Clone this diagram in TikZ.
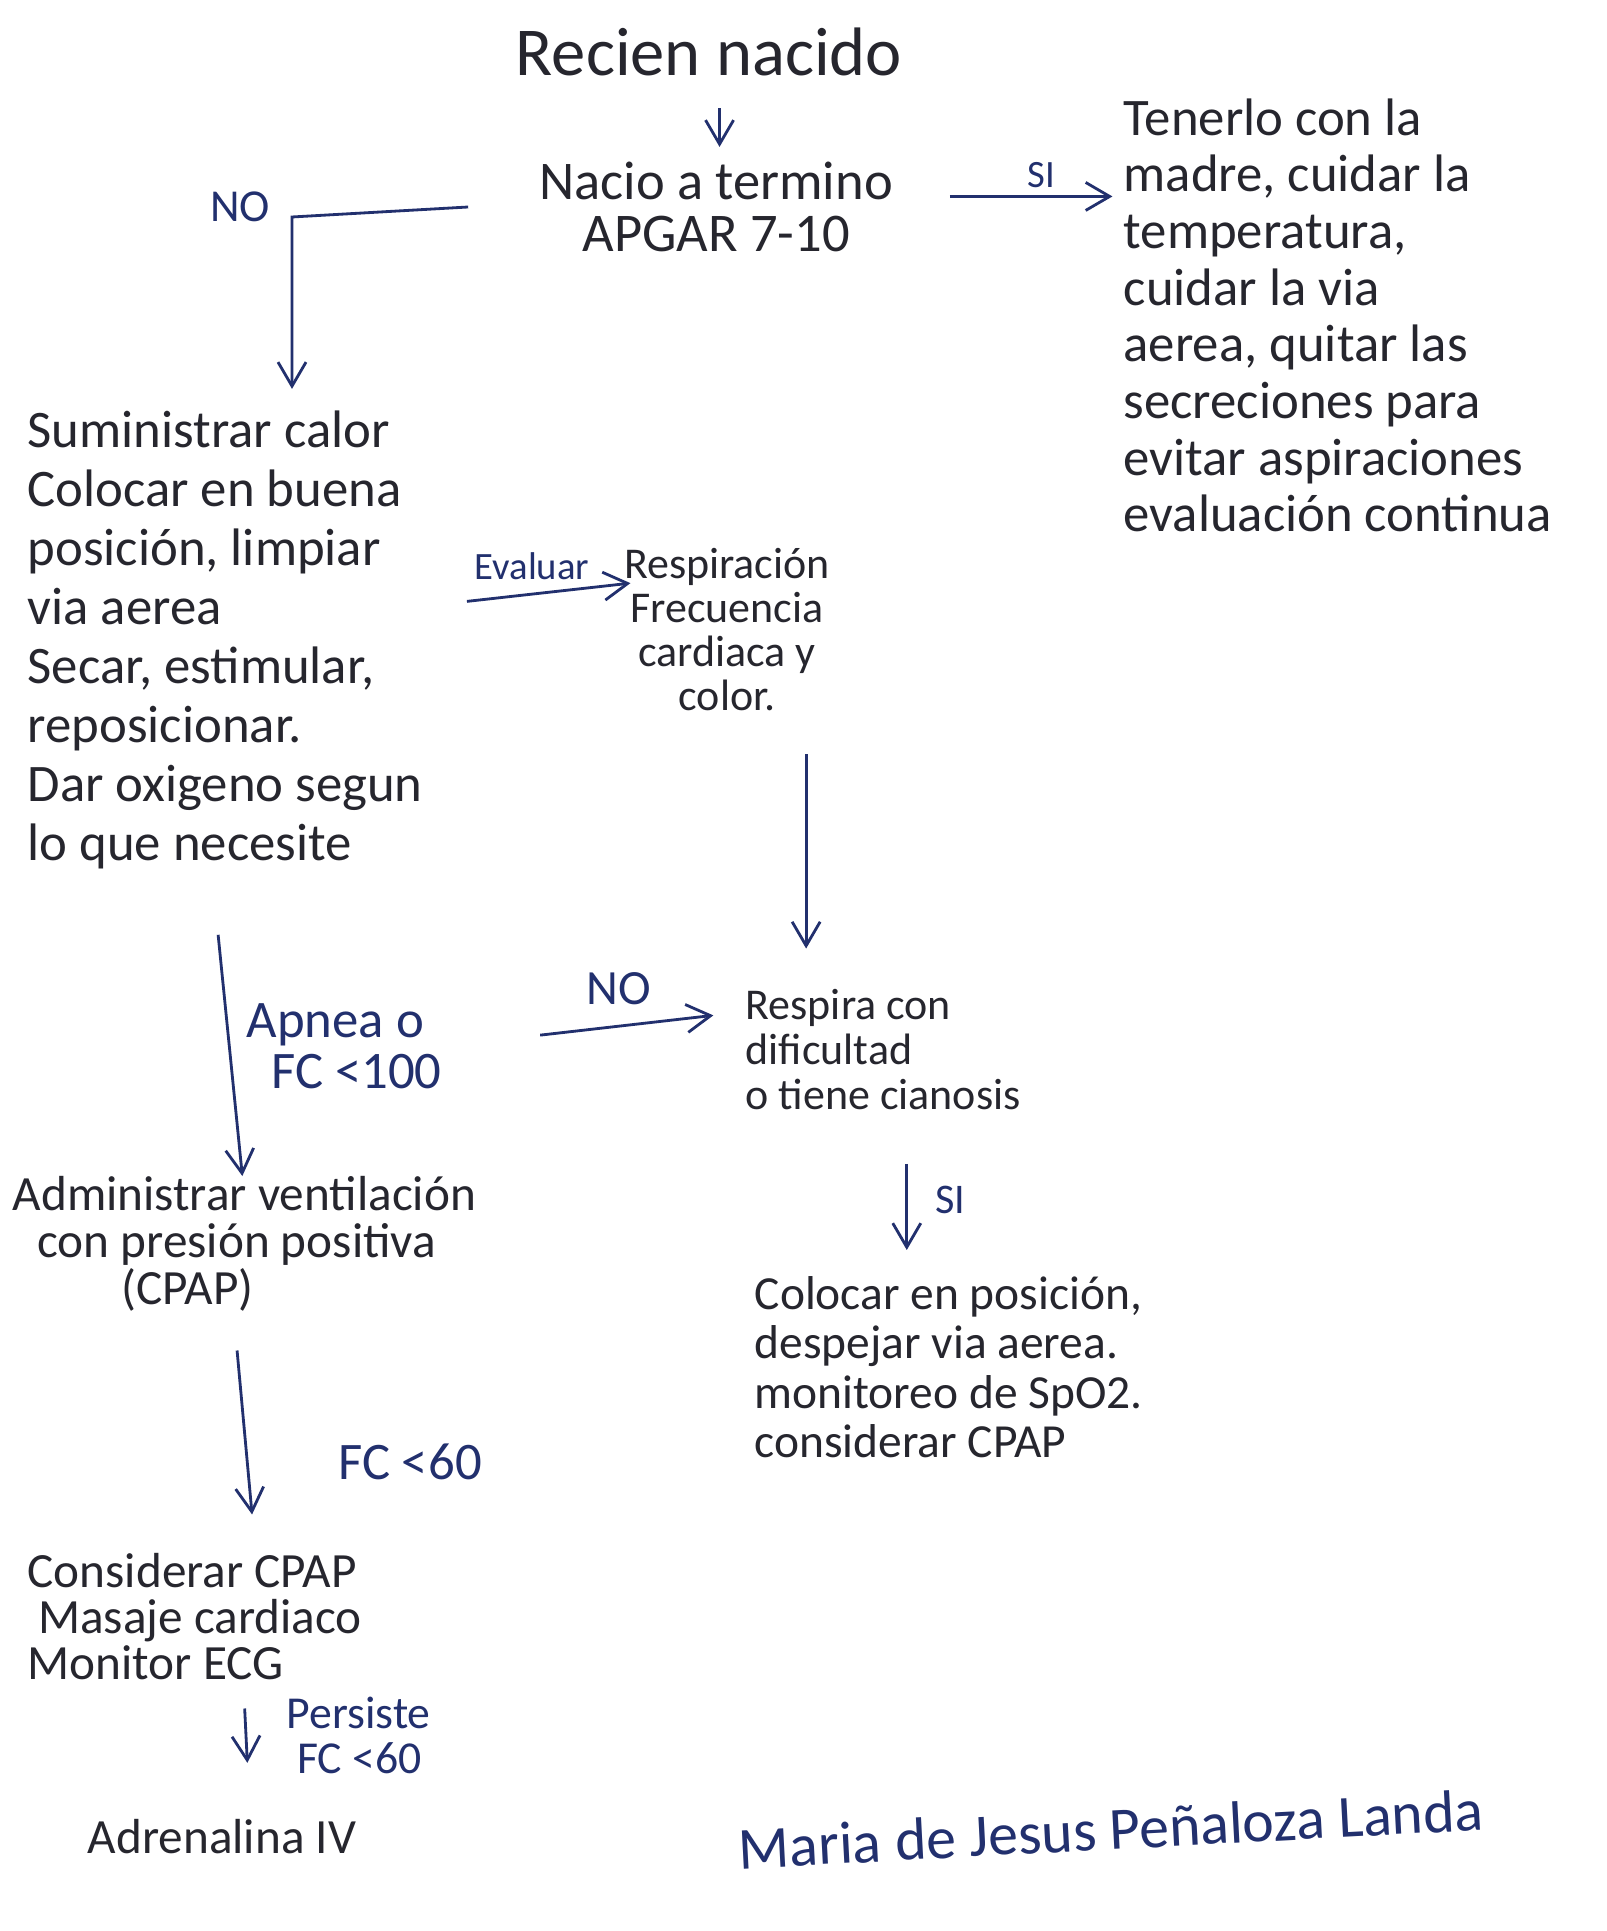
\documentclass[tikz,border=0pt]{standalone}
\usepackage{fontspec}
\setmainfont{Carlito}
\usetikzlibrary{arrows.meta}
\definecolor{tintanegra}{HTML}{26262E}
\definecolor{tintaazul}{HTML}{22306E}
\newcommand{\letra}[2]{\fontsize{#1}{#2}\selectfont}
\tikzset{
  tinta/.style={text=tintanegra,inner sep=0pt},
  bloque/.style={tinta,align=left,anchor=north west},
  etiqueta/.style={text=tintaazul,inner sep=0pt},
  flecha/.style={draw=tintaazul,line width=0.8pt,-{Straight Barb[length=2.4mm,width=2.8mm]}}
}
\begin{document}
\begin{tikzpicture}[x=0.01cm,y=-0.01cm]
    \useasboundingbox[fill=white] (0,0) rectangle (1607,1931);

    %Arriba
    \node[tinta,font=\letra{19.5}{19.5}] (recien) at (709,52) {Recien nacido};
    \node[tinta,align=center,font=\letra{15.5}{15}] (nacio) at (716,207) {Nacio a termino\\APGAR 7-10};
    \node[bloque,font=\letra{15}{16.1}] (tenerlo) at (1123,98) {Tenerlo con la\\madre, cuidar la\\temperatura,\\cuidar la via\\aerea, quitar las\\secreciones para\\evitar aspiraciones\\evaluación continua};

    %Columna izquierda
    \node[bloque,font=\letra{15}{16.8}] (sumin) at (27,410) {Suministrar calor\\Colocar en buena\\posición, limpiar\\via aerea\\Secar, estimular,\\reposicionar.\\Dar oxigeno segun\\lo que necesite};
    \node[bloque,font=\letra{14}{13.3}] (admin) at (12,1176) {Administrar ventilación\\\hspace*{7pt}con presión positiva\\\hspace*{31pt}(CPAP)};
    \node[bloque,font=\letra{14}{13}] (considerar) at (27,1553) {Considerar CPAP\\\hspace*{3pt}Masaje cardiaco\\Monitor ECG};
    \node[tinta,font=\letra{14}{14}] (adrenalina) at (222,1837) {Adrenalina IV};

    %Columna del medio
    \node[tinta,align=center,anchor=north,font=\letra{12.5}{12.5}] (respira) at (727,548) {Respiración\\Frecuencia\\cardiaca y\\color.};
    \node[bloque,font=\letra{12.5}{12.8}] (dificultad) at (745,989) {Respira con\\dificultad\\o tiene cianosis};
    \node[bloque,font=\letra{13.5}{14}] (colocar) at (754,1276) {Colocar en posición,\\despejar via aerea.\\monitoreo de SpO2.\\considerar CPAP};

    %Etiquetas
    \node[etiqueta,font=\letra{13}{13}] (no1) at (240,207) {NO};
    \node[etiqueta,font=\letra{11}{11}] (si1) at (1041,175) {SI};
    \node[etiqueta,font=\letra{11}{11}] (evaluar) at (532,566) {Evaluar};
    \node[etiqueta,align=left,anchor=north west,font=\letra{15}{14.5}] (apnea) at (246,1003) {Apnea o\\\hspace*{7pt}FC <100};
    \node[etiqueta,font=\letra{14}{14}] (no2) at (619,989) {NO};
    \node[etiqueta,font=\letra{12}{12}] (si2) at (950,1200) {SI};
    \node[etiqueta,font=\letra{15}{15}] (fc60) at (410,1462) {FC <60};
    \node[etiqueta,align=left,anchor=north west,font=\letra{13}{12.8}] (persiste) at (286,1696) {Persiste\\\hspace*{3pt}FC <60};
    \node[etiqueta,rotate=3,font=\letra{17}{17}] (firma) at (1111,1829) {Maria de Jesus Peñaloza Landa};

    %Flechas
    \coordinate (codo) at (292,217);
    \draw[flecha,shorten <=9pt,shorten >=4pt] ([xshift=3pt]recien.south) -- ([xshift=3pt]recien.south |- nacio.north);
    \draw[flecha,shorten >=6pt] ([xshift=-20pt]nacio.west) -- (codo) -- (codo |- sumin.north);
    \draw[flecha,shorten <=16pt] ([yshift=3pt]nacio.east) -- ([yshift=3pt,xshift=-3pt]nacio.east -| tenerlo.west);
    \draw[flecha] ([shift={(-2pt,-6pt)}]evaluar.south west) -- ([shift={(2pt,-10pt)}]respira.north west);
    \draw[flecha,shorten <=12pt,shorten >=11.5pt] ([xshift=22.5pt]respira.south) -- ([xshift=22.5pt]respira.south |- dificultad.north);
    \draw[flecha,shorten <=28pt] (apnea.east) -- ([shift={(-9pt,-7.5pt)}]dificultad.north west);
    \draw[flecha,shorten <=18.5pt] ([xshift=52.5pt]sumin.south west) -- ([xshift=65.5pt]admin.north west);
    \draw[flecha,shorten <=15pt,shorten >=7.4pt] ([xshift=46pt]dificultad.south west) -- ([xshift=46pt]dificultad.south west |- colocar.north);
    \draw[flecha,shorten <=11pt,shorten >=11pt] ([xshift=63pt]admin.south west) -- ([xshift=65pt]considerar.north west);
    \draw[flecha,shorten <=8pt,shorten >=16pt] ([xshift=61.5pt]considerar.south west) -- ([xshift=8pt]adrenalina.north);
\end{tikzpicture}
\end{document}
